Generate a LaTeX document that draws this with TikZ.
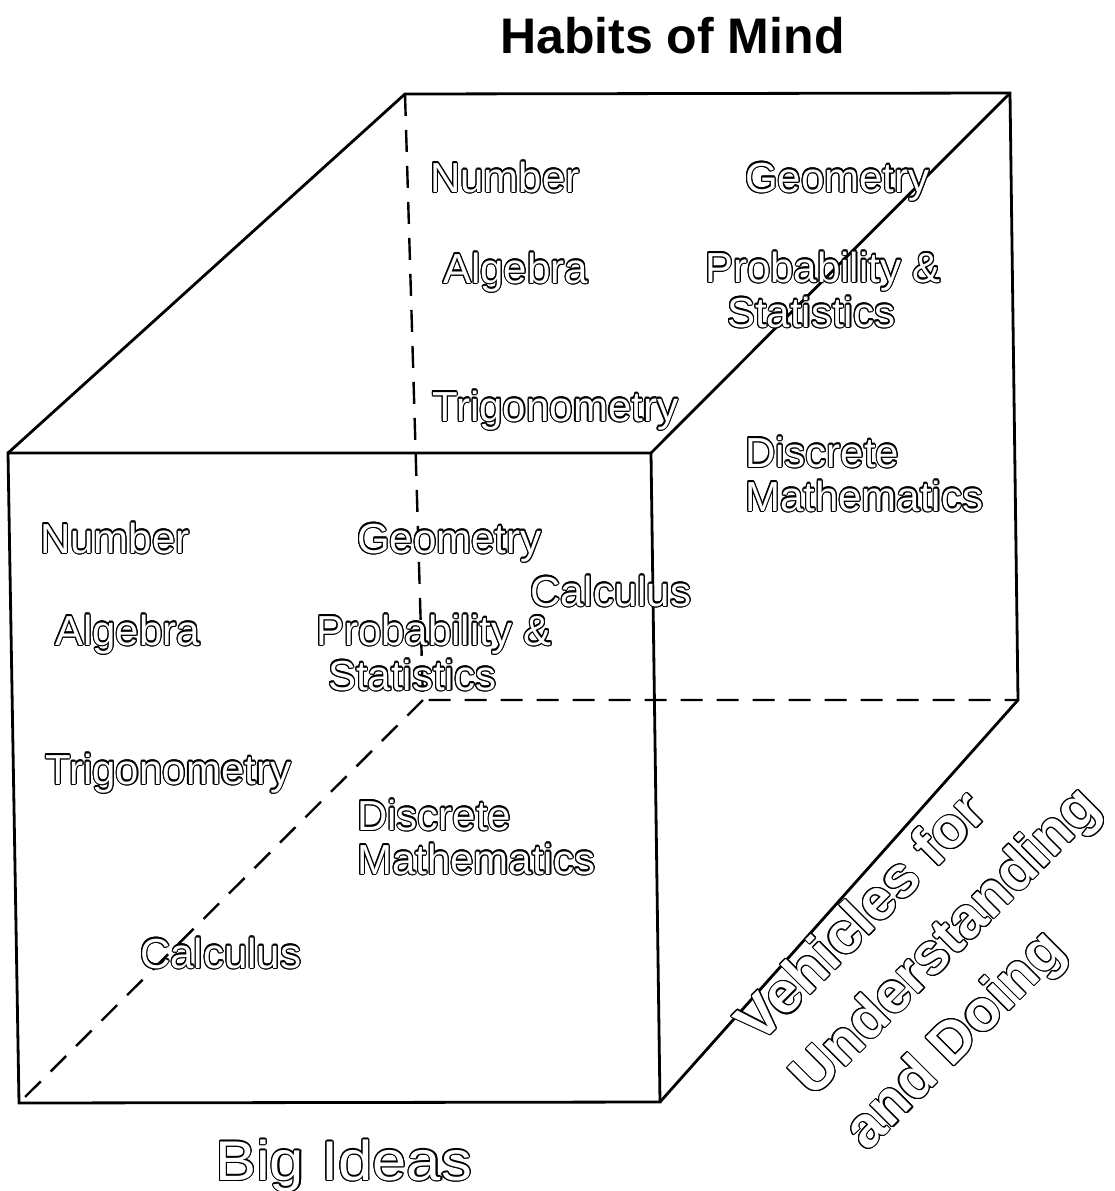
\documentclass[tikz,border=0pt]{standalone}
\usepackage{fontspec}
\setmainfont{Liberation Sans}
\usepackage{contour}
\contourlength{1.1pt}

\begin{document}
\begin{tikzpicture}[
  x=1pt, y=-1pt,
  edge/.style={line width=2.8pt, line join=miter},
  hidden/.style={line width=2.4pt, dash pattern=on 22pt off 14pt},
  lbl/.style={text=white, inner sep=0pt, anchor=base west, font=\fontsize{42}{46}\selectfont},
  heading/.style={inner sep=0pt, anchor=base west, font=\fontsize{50}{54}\selectfont\bfseries}
]

\useasboundingbox (0,0) rectangle (1114,1191);

% cube corners (front face, back face)
\coordinate (ftl) at (8,453);
\coordinate (ftr) at (651,453);
\coordinate (fbr) at (660,1102);
\coordinate (fbl) at (19,1103);
\coordinate (btl) at (405,94);
\coordinate (btr) at (1010,93);
\coordinate (bbr) at (1018,700);
\coordinate (bbl) at (423,700);

% hidden edges
\draw[hidden] (btl) -- (bbl) -- (bbr);
\draw[hidden] (bbl) -- (fbl);

% visible edges
\draw[edge] (ftl) -- (ftr) -- (fbr) -- (fbl) -- cycle;
\draw[edge] (ftl) -- (btl) -- (btr) -- (bbr) -- (fbr);
\draw[edge] (ftr) -- (btr);

% back face
\node[lbl] (bnum) at (430,192) {\contour{black}{Number}};
\node[lbl] (bgeo) at (745,192) {\contour{black}{Geometry}};
\node[lbl] (balg) at (443,283) {\contour{black}{Algebra}};
\node[lbl] (bprob) at (705,282) {\contour{black}{Probability \&}};
\node[lbl] (bstat) at (727,327) {\contour{black}{Statistics}};
\node[lbl] (btrig) at (432,421) {\contour{black}{Trigonometry}};
\node[lbl] (bdisc) at (745,467) {\contour{black}{Discrete}};
\node[lbl] (bmath) at (745,511) {\contour{black}{Mathematics}};
\node[lbl] (bcalc) at (530,606) {\contour{black}{Calculus}};

% front face
\node[lbl] (fnum) at (40,553) {\contour{black}{Number}};
\node[lbl] (fgeo) at (357,553) {\contour{black}{Geometry}};
\node[lbl] (falg) at (55,645) {\contour{black}{Algebra}};
\node[lbl] (fprob) at (316,645) {\contour{black}{Probability \&}};
\node[lbl] (fstat) at (328,690) {\contour{black}{Statistics}};
\node[lbl] (ftrig) at (45,784) {\contour{black}{Trigonometry}};
\node[lbl] (fdisc) at (357,830) {\contour{black}{Discrete}};
\node[lbl] (fmath) at (357,874) {\contour{black}{Mathematics}};
\node[lbl] (fcalc) at (140,968) {\contour{black}{Calculus}};

% axis titles
\node[heading] (habits) at (500,53) {Habits of Mind};
\node[lbl, font=\fontsize{56}{60}\selectfont, xscale=1.1] (ideas) at (215,1180) {\contour{black}{Big Ideas}};
\node[text=white, inner sep=0pt, align=left, rotate=45,
      font=\fontsize{58}{76}\selectfont\bfseries] (vehicles) at (948,944)
  {\contour{black}{Vehicles for}\\\contour{black}{Understanding}\\\contour{black}{and Doing}};

\end{tikzpicture}
\end{document}
